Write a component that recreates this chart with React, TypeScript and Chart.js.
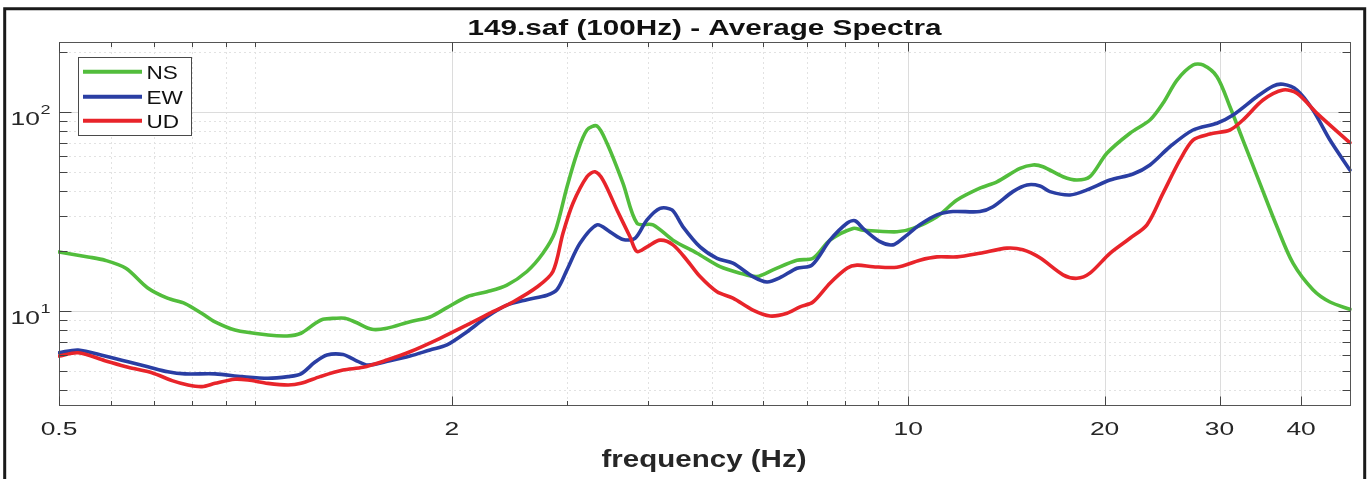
import { useEffect, useRef } from "react";
import { Chart, registerables } from "chart.js";

Chart.register(...registerables);

// Average spectra of the three components (frequency in Hz, amplitude)
const nsFreq = [0.5, 0.554, 0.588, 0.633, 0.683, 0.733, 0.78, 0.828, 0.867, 0.93, 1.045, 1.118, 1.174, 1.234, 1.269, 1.324, 1.371, 1.421, 1.508, 1.59, 1.725, 1.851, 1.965, 2.11, 2.263, 2.428, 2.606, 2.757, 2.876, 3.001, 3.109, 3.22, 3.336, 3.456, 3.657, 3.842, 4.066, 4.362, 4.749, 5.15, 5.526, 5.867, 6.208, 6.755, 7.148, 7.589, 8.232, 8.527, 9.614, 10.17, 11.07, 11.88, 12.88, 13.68, 14.84, 15.54, 16.09, 17.27, 18.14, 18.99, 20.16, 21.87, 23.47, 24.57, 25.82, 27.32, 28.29, 29.73, 31.12, 32.58, 34.59, 36.74, 38.87, 41.71, 44.29, 47.52];
const nsAmp = [19.8, 18.7, 18.0, 16.4, 13.1, 11.6, 10.9, 9.71, 8.81, 8.03, 7.58, 7.49, 7.73, 8.65, 9.08, 9.19, 9.19, 8.81, 8.09, 8.19, 8.84, 9.33, 10.4, 11.8, 12.5, 13.5, 15.8, 19.5, 24.9, 42.0, 62.0, 81.2, 85.0, 69.6, 43.8, 27.6, 27.1, 22.7, 19.5, 16.7, 15.5, 14.9, 16.1, 18.0, 18.4, 22.7, 26.0, 25.5, 25.0, 26.0, 29.8, 36.1, 41.4, 44.6, 52.1, 54.2, 53.1, 47.3, 45.5, 47.3, 62.0, 78.2, 91.2, 110.6, 144.8, 172.3, 172.3, 150.5, 106.3, 72.3, 43.8, 26.5, 17.4, 12.8, 11.1, 10.2];

const ewFreq = [0.5, 0.535, 0.588, 0.638, 0.684, 0.734, 0.78, 0.867, 0.954, 1.045, 1.122, 1.174, 1.234, 1.287, 1.362, 1.421, 1.487, 1.607, 1.725, 1.851, 1.965, 2.11, 2.263, 2.428, 2.606, 2.797, 2.897, 3.001, 3.142, 3.336, 3.493, 3.657, 3.815, 3.98, 4.167, 4.347, 4.519, 4.799, 5.095, 5.39, 5.783, 6.077, 6.363, 6.755, 7.122, 7.589, 8.059, 8.289, 8.527, 9.054, 9.478, 9.819, 10.42, 11.07, 11.71, 12.88, 13.49, 14.47, 15.21, 15.92, 16.49, 17.7, 18.79, 20.38, 22.11, 23.47, 25.18, 27.32, 29.73, 31.46, 34.22, 36.23, 37.53, 39.42, 41.71, 44.29, 47.52];
const ewAmp = [6.17, 6.37, 5.94, 5.56, 5.25, 4.95, 4.83, 4.83, 4.68, 4.59, 4.68, 4.83, 5.54, 6.01, 6.04, 5.67, 5.35, 5.63, 5.94, 6.37, 6.75, 7.87, 9.36, 10.7, 11.4, 12.0, 12.8, 16.1, 21.9, 27.1, 25.0, 22.9, 23.2, 28.7, 32.8, 32.2, 26.5, 21.0, 18.4, 17.4, 14.9, 14.0, 14.7, 16.4, 17.0, 22.7, 27.6, 28.4, 26.0, 22.3, 21.5, 23.2, 27.1, 30.4, 31.6, 31.6, 33.4, 39.8, 43.0, 42.5, 39.8, 38.3, 40.6, 45.5, 48.8, 54.2, 66.9, 81.2, 87.8, 96.6, 119.4, 135.1, 137.8, 129.0, 102.3, 72.3, 51.1];

const udFreq = [0.5, 0.535, 0.588, 0.638, 0.694, 0.745, 0.788, 0.828, 0.867, 0.93, 0.974, 1.045, 1.122, 1.174, 1.256, 1.362, 1.461, 1.59, 1.725, 1.918, 2.11, 2.311, 2.48, 2.7, 2.856, 2.959, 3.065, 3.22, 3.313, 3.408, 3.58, 3.748, 3.842, 3.98, 4.167, 4.362, 4.583, 4.799, 5.095, 5.39, 5.783, 6.142, 6.523, 6.829, 7.148, 7.589, 8.059, 8.348, 8.834, 9.614, 10.42, 11.07, 11.88, 12.88, 14.17, 14.99, 15.92, 17.27, 18.14, 18.99, 20.38, 21.87, 23.22, 24.57, 26.09, 27.32, 29.0, 31.12, 32.58, 34.97, 37.53, 39.42, 42.31, 47.52];
const udAmp = [5.94, 6.17, 5.63, 5.21, 4.9, 4.47, 4.25, 4.17, 4.33, 4.54, 4.5, 4.33, 4.25, 4.33, 4.68, 5.05, 5.21, 5.67, 6.24, 7.29, 8.51, 9.92, 11.1, 13.2, 15.8, 24.6, 34.8, 47.3, 50.1, 45.5, 32.2, 23.6, 19.9, 21.0, 22.7, 21.5, 18.0, 14.9, 12.5, 11.6, 10.1, 9.44, 9.74, 10.5, 11.1, 13.8, 16.4, 17.0, 16.7, 16.6, 18.0, 18.7, 18.7, 19.5, 20.7, 20.3, 18.5, 15.2, 14.6, 15.5, 19.5, 23.2, 27.1, 39.0, 57.4, 72.3, 77.5, 81.2, 91.2, 114.9, 129.0, 124.2, 98.5, 70.1];

const seriesNames = ["NS", "EW", "UD"];
const seriesColors = ["#52bd3c", "#2a3ea3", "#e8242a"];

// Axis ticks
const xRange = [0.5, 47.7];
const yRange = [3.332, 224.8];
const xMajorTicks = [0.5, 2, 10, 20, 30, 40];
const xMinorTicks = [0.6, 0.7, 0.8, 0.9, 1, 3, 4, 5, 6, 7, 8, 9];
const yMajorTicks = [10, 100];
const yMajorExponents = ["1", "2"];
const yMinorTicks = [4, 5, 6, 7, 8, 9, 20, 30, 40, 50, 60, 70, 80, 90, 200];

const titleText = "149.saf (100Hz) - Average Spectra";
const xAxisTitle = "frequency (Hz)";

const FONT = '"Liberation Sans", Arial, Helvetica, sans-serif';

// Draws text squeezed/stretched horizontally by sx
function drawWide(
  ctx: CanvasRenderingContext2D,
  text: string,
  x: number,
  y: number,
  font: string,
  sx: number,
  align: "left" | "center" | "right",
  color: string
) {
  ctx.save();
  ctx.font = font;
  ctx.fillStyle = color;
  ctx.textBaseline = "alphabetic";
  ctx.textAlign = "left";
  const w = ctx.measureText(text).width * sx;
  const left = align === "center" ? x - w / 2 : align === "right" ? x - w : x;
  ctx.translate(left, y);
  ctx.scale(sx, 1);
  ctx.fillText(text, 0, 0);
  ctx.restore();
  return w;
}

// Draws text fitted to a given width
function drawFitted(
  ctx: CanvasRenderingContext2D,
  text: string,
  cx: number,
  y: number,
  font: string,
  width: number,
  color: string
) {
  ctx.save();
  ctx.font = font;
  const sx = width / ctx.measureText(text).width;
  ctx.restore();
  drawWide(ctx, text, cx, y, font, sx, "center", color);
}

const spectraFrame = {
  id: "spectraFrame",
  beforeDraw(chart: any) {
    const { ctx, width, height } = chart;
    ctx.save();
    ctx.fillStyle = "#ffffff";
    ctx.fillRect(0, 0, width, height);
    ctx.restore();
  },
  beforeDatasetsDraw(chart: any) {
    const { ctx, chartArea: a, scales } = chart;
    const xs = scales.x;
    const ys = scales.y;
    const vline = (px: number) => {
      ctx.beginPath();
      ctx.moveTo(px, a.top);
      ctx.lineTo(px, a.bottom);
      ctx.stroke();
    };
    const hline = (py: number) => {
      ctx.beginPath();
      ctx.moveTo(a.left, py);
      ctx.lineTo(a.right, py);
      ctx.stroke();
    };
    ctx.save();
    ctx.lineWidth = 1;
    ctx.strokeStyle = "#e2e2e2";
    ctx.setLineDash([2, 3]);
    xMinorTicks.forEach((v) => vline(Math.round(xs.getPixelForValue(v)) + 0.5));
    yMinorTicks.forEach((v) => hline(Math.round(ys.getPixelForValue(v)) + 0.5));
    ctx.setLineDash([]);
    ctx.strokeStyle = "#dcdcdc";
    xMajorTicks.forEach((v) => vline(Math.round(xs.getPixelForValue(v)) + 0.5));
    yMajorTicks.forEach((v) => hline(Math.round(ys.getPixelForValue(v)) + 0.5));
    ctx.restore();
  },
  afterDatasetsDraw(chart: any) {
    const { ctx, chartArea: a, scales } = chart;
    const xs = scales.x;
    const ys = scales.y;
    const L = Math.round(a.left) + 0.5;
    const R = Math.round(a.right) - 0.5;
    const T = Math.round(a.top) + 0.5;
    const B = Math.round(a.bottom) - 0.5;

    ctx.save();
    // axes box
    ctx.strokeStyle = "#555555";
    ctx.lineWidth = 1;
    ctx.strokeRect(L, T, R - L, B - T);

    // inward ticks
    const xTick = (v: number, len: number) => {
      const px = Math.round(xs.getPixelForValue(v)) + 0.5;
      ctx.beginPath();
      ctx.moveTo(px, B);
      ctx.lineTo(px, B - len);
      ctx.moveTo(px, T);
      ctx.lineTo(px, T + len);
      ctx.stroke();
    };
    const yTick = (v: number, len: number) => {
      const py = Math.round(ys.getPixelForValue(v)) + 0.5;
      ctx.beginPath();
      ctx.moveTo(L, py);
      ctx.lineTo(L + len, py);
      ctx.moveTo(R, py);
      ctx.lineTo(R - len, py);
      ctx.stroke();
    };
    ctx.strokeStyle = "#444444";
    xMajorTicks.forEach((v) => xTick(v, 9));
    xMinorTicks.forEach((v) => xTick(v, 4.5));
    yMajorTicks.forEach((v) => yTick(v, 12));
    yMinorTicks.forEach((v) => yTick(v, 8));
    ctx.restore();

    // x tick labels
    const tickFont = `19px ${FONT}`;
    xMajorTicks.forEach((v) => {
      drawWide(ctx, String(v), xs.getPixelForValue(v), a.bottom + 28.5, tickFont, 1.39, "center", "#262626");
    });

    // y tick labels: 10 with a raised exponent
    yMajorTicks.forEach((v, i) => {
      const py = ys.getPixelForValue(v);
      const w = drawWide(ctx, "10", 10.5, py + 13, tickFont, 1.39, "left", "#262626");
      drawWide(ctx, yMajorExponents[i], 10.5 + w + 0.5, py + 2, `13px ${FONT}`, 1.39, "left", "#262626");
    });

    // title and x-axis title
    drawFitted(ctx, titleText, 704.5, 34.5, `bold 22px ${FONT}`, 474, "#111111");
    drawFitted(ctx, xAxisTitle, 704, 466.5, `bold 24px ${FONT}`, 205, "#262626");

    // legend
    ctx.save();
    ctx.fillStyle = "#ffffff";
    ctx.fillRect(78.5, 57.5, 113, 78);
    ctx.strokeStyle = "#4a4a4a";
    ctx.lineWidth = 1;
    ctx.strokeRect(78.5, 57.5, 113, 78);
    const rows = [71.7, 96.7, 120.7];
    chart.data.datasets.forEach((ds: any, i: number) => {
      ctx.strokeStyle = ds.borderColor;
      ctx.lineWidth = 4;
      ctx.lineCap = "butt";
      ctx.beginPath();
      ctx.moveTo(83, rows[i]);
      ctx.lineTo(142, rows[i]);
      ctx.stroke();
      drawWide(ctx, ds.label, 146.5, rows[i] + 7, `18.5px ${FONT}`, 1.22, "left", "#111111");
    });
    ctx.restore();

    // outer figure frame
    ctx.save();
    ctx.strokeStyle = "#1a1a1a";
    ctx.lineWidth = 3;
    ctx.beginPath();
    ctx.moveTo(4.7, 490);
    ctx.lineTo(4.7, 8.7);
    ctx.lineTo(1364.7, 8.7);
    ctx.lineTo(1364.7, 490);
    ctx.stroke();
    ctx.restore();
  },
};

function toPoints(freq: number[], amp: number[]) {
  return freq.map((f, i) => ({ x: f, y: amp[i] }));
}

export default function App() {
  const canvasRef = useRef<HTMLCanvasElement | null>(null);

  useEffect(() => {
    const canvas = canvasRef.current;
    if (!canvas) return;
    const series = [
      toPoints(nsFreq, nsAmp),
      toPoints(ewFreq, ewAmp),
      toPoints(udFreq, udAmp),
    ];
    const chart = new Chart(canvas, {
      type: "line",
      data: {
        datasets: series.map((pts, i) => ({
          label: seriesNames[i],
          data: pts,
          borderColor: seriesColors[i],
          backgroundColor: seriesColors[i],
          borderWidth: 3.6,
          pointRadius: 0,
          tension: 0.3,
          borderJoinStyle: "round" as const,
          borderCapStyle: "round" as const,
          fill: false,
          clip: 1,
          order: 2 - i,
        })),
      },
      options: {
        animation: false,
        responsive: false,
        maintainAspectRatio: false,
        devicePixelRatio: 1,
        layout: { padding: { left: 59, top: 42, right: 16, bottom: 73 } },
        plugins: {
          legend: { display: false },
          title: { display: false },
          tooltip: { enabled: false },
        },
        scales: {
          x: {
            type: "logarithmic",
            min: xRange[0],
            max: xRange[1],
            bounds: "data",
            display: false,
          },
          y: {
            type: "logarithmic",
            min: yRange[0],
            max: yRange[1],
            bounds: "data",
            display: false,
          },
        },
      },
      plugins: [spectraFrame],
    });
    return () => chart.destroy();
  }, []);

  return (
    <div style={{ position: "fixed", left: 0, top: 0, width: 1367, height: 479, background: "#fff" }}>
      <canvas ref={canvasRef} width={1367} height={479} style={{ display: "block" }} />
    </div>
  );
}
